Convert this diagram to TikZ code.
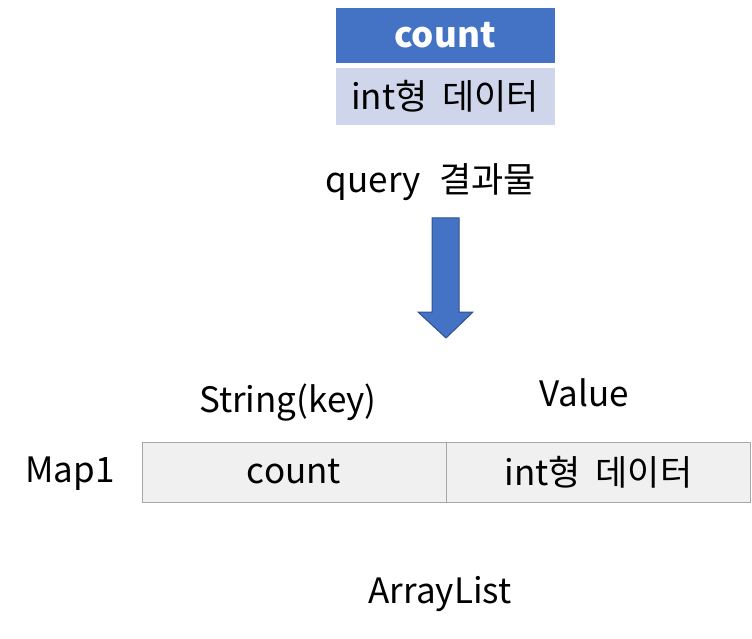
\documentclass[tikz,border=0pt]{standalone}
\usepackage{fontspec}
\setmainfont{Noto Sans CJK KR}
\usetikzlibrary{positioning}
\definecolor{HeadBlue}{RGB}{68,114,196}
\definecolor{RowBlue}{RGB}{207,213,234}
\definecolor{CellGray}{RGB}{240,240,240}
\definecolor{LineGray}{RGB}{166,166,166}
\definecolor{ArrowEdge}{RGB}{47,82,143}
\tikzset{
    txt/.style={font=\fontsize{35pt}{42pt}\selectfont},
    cell/.style={txt, draw=LineGray, fill=CellGray, minimum width=304pt, minimum height=60pt, inner sep=0pt}
}
\begin{document}
\begin{tikzpicture}[x=1pt,y=-1pt]
        \useasboundingbox (0,0) rectangle (752,639);
        % query result
        \node[fill=HeadBlue, draw=white, minimum width=220pt, minimum height=56pt, inner sep=0pt, text=white, font=\fontsize{35pt}{42pt}\selectfont\bfseries] (head) at (445,35) {count};
        \node[txt, fill=RowBlue, draw=white, minimum width=220pt, minimum height=58pt, inner sep=0pt, below=4pt of head] (row) {int형\hspace{0.2em} 데이터};
        \node[txt] (query) at (431,182) {query\hspace{0.3em} 결과물};
        \draw[fill=HeadBlue, draw=ArrowEdge, line width=1pt] (432,218) -- (459,218) -- (459,312) -- (473,312) -- (446,338) -- (418,312) -- (432,312) -- cycle;
        % map in list
        \node[cell] (key) at (294,472) {count};
        \node[cell, right=0pt of key] (val) {int형\hspace{0.2em} 데이터};
        \node[txt] (keylabel) at (288,403) {String(key)};
        \node[txt] (vallabel) at (584,393) {Value};
        \node[txt] (map) at (70,474) {Map1};
        \node[txt] (list) at (440,594) {ArrayList};
\end{tikzpicture}
\end{document}
